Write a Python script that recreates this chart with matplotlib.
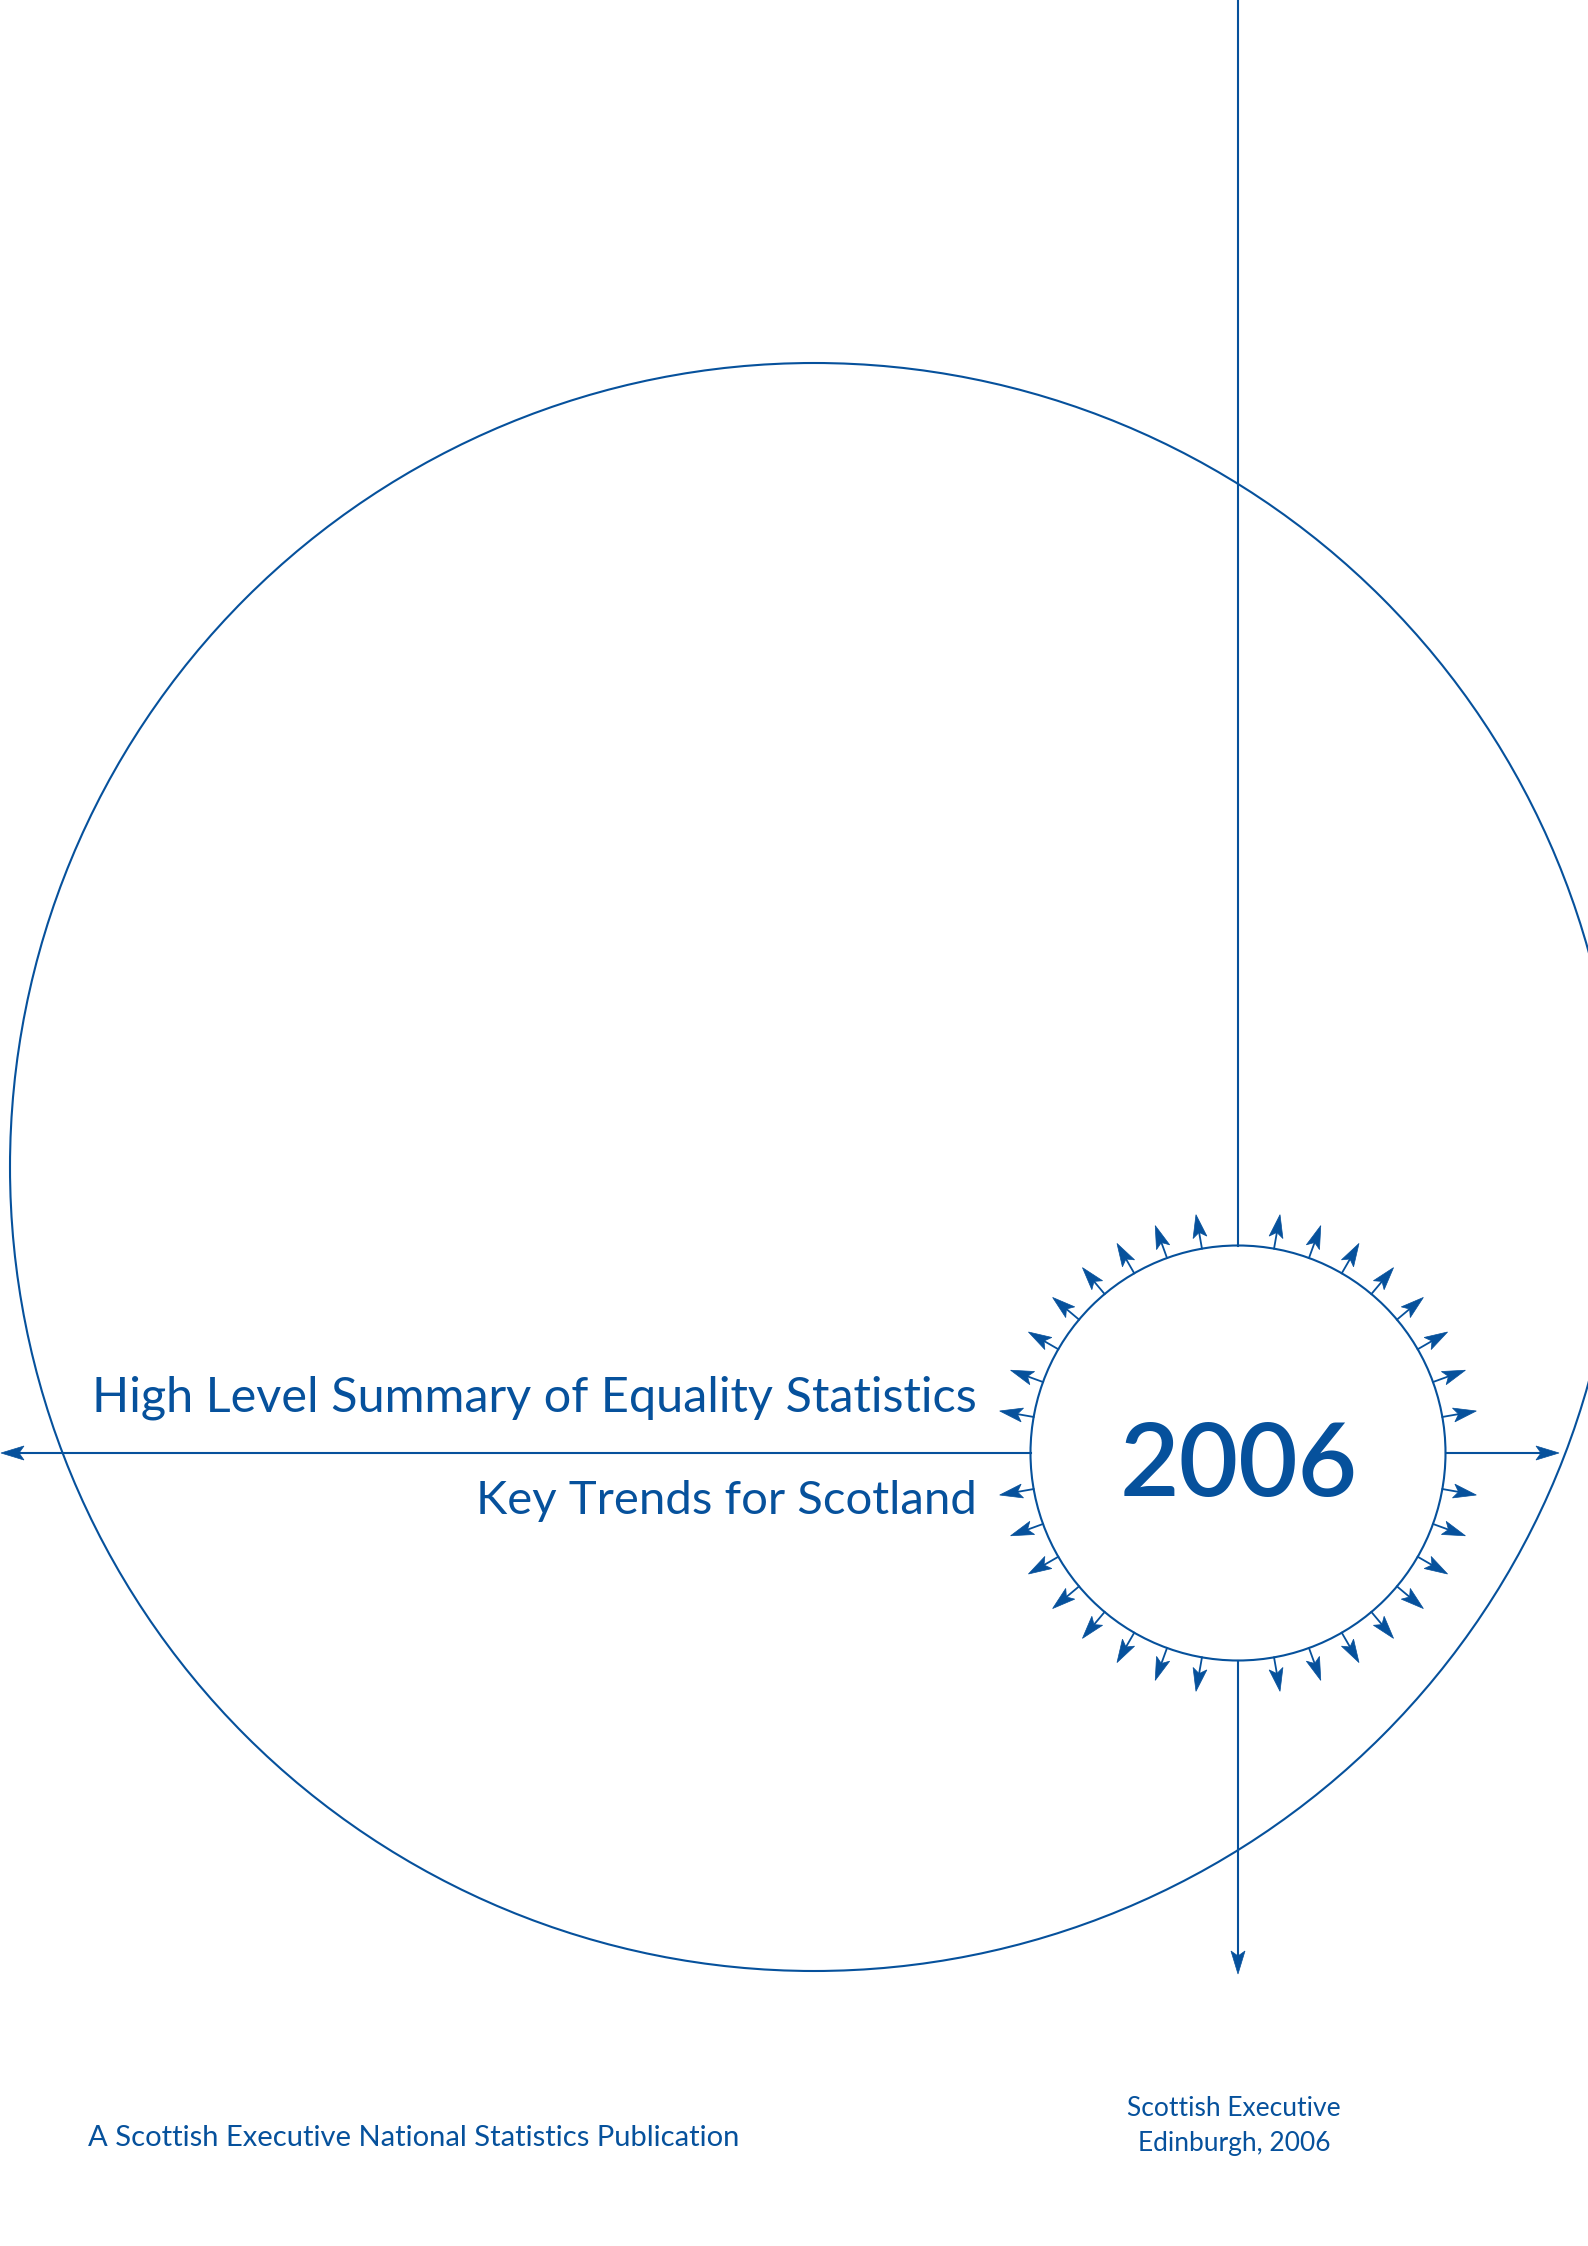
import numpy as np
import matplotlib
matplotlib.use('Agg')
import matplotlib.pyplot as plt
from matplotlib.patches import Circle, Polygon

BLUE = '#06519c'

# page text
title = 'High Level Summary of Equality Statistics'
subtitle = 'Key Trends for Scotland'
year = '2006'
footer_left = 'A Scottish Executive National Statistics Publication'
footer_right = ['Scottish Executive', 'Edinburgh, 2006']

# arrows around the small circle: degrees off each axis, repeated per quadrant
quadrant_starts = [0, 90, 180, 270]
offsets = [10, 20, 30, 40, 50, 60, 70, 80]

W, H = 1588, 2246
fig = plt.figure(figsize=(W / 100, H / 100), dpi=100)
ax = fig.add_axes([0, 0, 1, 1])
ax.set_xlim(0, W)
ax.set_ylim(H, 0)
ax.axis('off')

big_c, big_r = (814, 1167), 804
small_c, small_r = (1238, 1453), 207.5
lw = 1.5


def head(tip, ang, L=23, w=7, notch=5):
    # barbed arrowhead; ang in radians, direction of travel (y down)
    d = np.array([np.cos(ang), np.sin(ang)])
    n = np.array([-d[1], d[0]])
    tip = np.array(tip, float)
    back = tip - d * L
    pts = [tip, back + n * w, tip - d * (L - notch), back - n * w]
    ax.add_patch(Polygon(pts, closed=True, fc=BLUE, ec=BLUE, lw=0.5))
    return tip - d * (L - notch)


ax.add_patch(Circle(big_c, big_r, fill=False, ec=BLUE, lw=lw))
ax.add_patch(Circle(small_c, small_r, fill=False, ec=BLUE, lw=lw))

cx, cy = small_c
# vertical line from top edge to small circle
ax.plot([cx, cx], [0, cy - small_r], color=BLUE, lw=lw)
# vertical down arrow
end = head((cx, 1974), np.pi / 2)
ax.plot([cx, cx], [cy + small_r, end[1]], color=BLUE, lw=lw)
# horizontal left arrow
end = head((1, cy), np.pi)
ax.plot([end[0], cx - small_r], [cy, cy], color=BLUE, lw=lw)
# horizontal right arrow
end = head((1559, cy), 0)
ax.plot([cx + small_r, end[0]], [cy, cy], color=BLUE, lw=lw)

# small radial arrows
for q in quadrant_starts:
    for o in offsets:
        a = np.deg2rad(q + o)
        d = np.array([np.cos(a), np.sin(a)])
        base = np.array(small_c) + d * small_r
        tip = np.array(small_c) + d * 242
        end = head(tip, a, L=23, w=7, notch=5)
        ax.plot([base[0], end[0]], [base[1], end[1]], color=BLUE, lw=1.3)

font = ['Lato', 'DejaVu Sans']
ax.text(977, 1411, title, ha='right', va='baseline', color=BLUE, fontsize=35, family=font)
ax.text(977, 1514, subtitle, ha='right', va='baseline', color=BLUE, fontsize=34, family=font)
ax.text(1239, 1496, year, ha='center', va='baseline', color=BLUE, fontsize=74,
        family=font, fontweight='semibold')
ax.text(88, 2146, footer_left, ha='left', va='baseline', color=BLUE, fontsize=21, family=font)
ax.text(1234, 2116, footer_right[0], ha='center', va='baseline', color=BLUE, fontsize=19, family=font)
ax.text(1234, 2151, footer_right[1], ha='center', va='baseline', color=BLUE, fontsize=19, family=font)

fig.savefig('out.png', dpi=100, facecolor='white')
